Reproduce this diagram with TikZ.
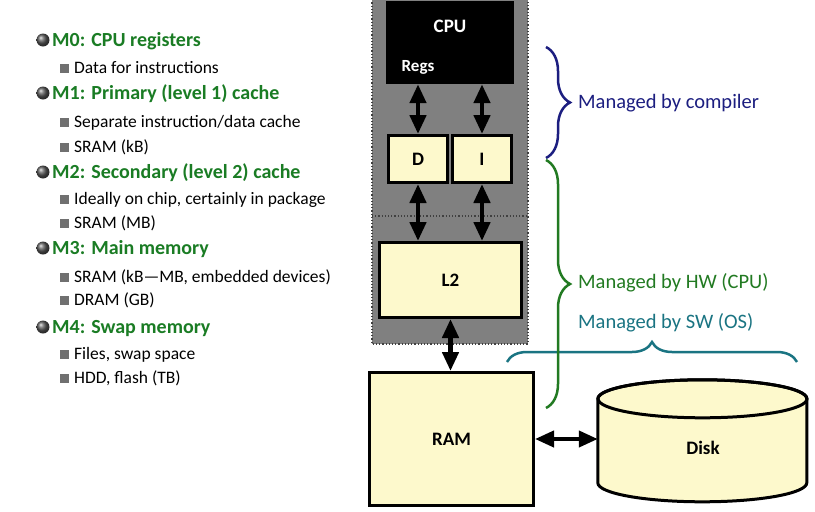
\documentclass[tikz,border=0pt]{standalone}
\usepackage{fontspec}
\setmainfont{Carlito}
\usetikzlibrary{arrows.meta,decorations.pathreplacing,positioning}
\definecolor{headgreen}{RGB}{26,124,36}
\definecolor{compnavy}{RGB}{28,30,128}
\definecolor{hwgreen}{RGB}{34,122,34}
\definecolor{swteal}{RGB}{26,116,130}
\definecolor{memfill}{RGB}{253,249,204}
\definecolor{chipgray}{RGB}{128,128,128}
\definecolor{sqgray}{RGB}{112,112,112}

\begin{document}
\begin{tikzpicture}[x=1pt,y=-1pt,
                hbullet/.style={circle,inner sep=0pt,minimum size=13pt,shading=ball,ball color=black!65},
                sbullet/.style={rectangle,inner sep=0pt,minimum size=9pt,fill=sqgray},
                head/.style={anchor=west,inner sep=0pt,text=headgreen,text height=16pt,text depth=3pt,font=\bfseries\fontsize{20}{24}\selectfont},
                item/.style={anchor=west,inner sep=0pt,text height=14pt,text depth=3pt,font=\fontsize{17.5}{20}\selectfont},
                memblock/.style={draw=black,line width=3pt,fill=memfill,font=\bfseries\fontsize{19}{22}\selectfont},
                cputext/.style={text=white,font=\bfseries\fontsize{19}{22}\selectfont},
                dbl/.style={line width=4.5pt,{Triangle[length=19pt,width=16pt]}-{Triangle[length=19pt,width=16pt]}},
                curly/.style={decorate,decoration={brace,amplitude=#1},line width=2.5pt},
                note/.style={anchor=west,inner sep=0pt,font=\fontsize{20.5}{24}\selectfont}]
                \useasboundingbox (0,0) rectangle (815,512);

                \node[hbullet] (bzero) at (43,40) {};
                \node[head] (mzero) at (52,40) {M0: CPU registers};
                \node[sbullet] (szeroa) at (64,68) {};
                \node[item] (zeroa) at (74,68) {Data for instructions};
                \node[hbullet] (bone) at (43,93) {};
                \node[head] (mone) at (52,93) {M1: Primary (level 1) cache};
                \node[sbullet] (sonea) at (64,122) {};
                \node[item] (onea) at (74,122) {Separate instruction/data cache};
                \node[sbullet] (soneb) at (64,147) {};
                \node[item] (oneb) at (74,147) {SRAM (kB)};
                \node[hbullet] (btwo) at (43,172) {};
                \node[head] (mtwo) at (52,172) {M2: Secondary (level 2) cache};
                \node[sbullet] (stwoa) at (64,199) {};
                \node[item] (twoa) at (74,199) {Ideally on chip, certainly in package};
                \node[sbullet] (stwob) at (64,223) {};
                \node[item] (twob) at (74,223) {SRAM (MB)};
                \node[hbullet] (bthree) at (43,248) {};
                \node[head] (mthree) at (52,248) {M3: Main memory};
                \node[sbullet] (sthreea) at (64,277) {};
                \node[item] (threea) at (74,277) {SRAM (kB—MB, embedded devices)};
                \node[sbullet] (sthreeb) at (64,300) {};
                \node[item] (threeb) at (74,300) {DRAM (GB)};
                \node[hbullet] (bfour) at (43,327) {};
                \node[head] (mfour) at (52,327) {M4: Swap memory};
                \node[sbullet] (sfoura) at (64,354) {};
                \node[item] (foura) at (74,354) {Files, swap space};
                \node[sbullet] (sfourb) at (64,378) {};
                \node[item] (fourb) at (74,378) {HDD, flash (TB)};

                \fill[chipgray] (372,-4) rectangle (528,344);
                \draw[black!75,line width=1.2pt,dotted] (372,-4) -- (372,344) -- (528,344) -- (528,-4);
                \draw[black!75,line width=1.2pt,dotted] (372,216) -- (528,216);

                \node[fill=black,minimum width=128pt,minimum height=83pt] (cpu) at (450,42.5) {};
                \node[cputext] (cpulabel) at (450,26) {CPU};
                \node[cputext,font=\bfseries\fontsize{17}{20}\selectfont] (regs) at (418,67) {Regs};
                \node[memblock,minimum width=59pt,minimum height=47pt] (dcache) at (418,159) {D};
                \node[memblock,minimum width=59pt,minimum height=47pt] (icache) at (482,159) {I};
                \node[memblock,minimum width=142pt,minimum height=75pt] (ltwo) at (450.5,280) {L2};
                \node[memblock,minimum width=164pt,minimum height=133pt] (ram) at (451.5,439) {RAM};

                \node[minimum width=209pt,minimum height=122pt] (disk) at (702.5,441) {};
                \draw[line width=3pt,fill=memfill] (disk.north west) ++(0,19) -- ++(0,84)
                    arc[start angle=180,end angle=360,x radius=104.5pt,y radius=19pt] -- ++(0,-84)
                    arc[start angle=0,end angle=180,x radius=104.5pt,y radius=19pt] -- cycle;
                \draw[line width=3pt] (disk.north) ++(0,19) ellipse[x radius=104.5pt,y radius=19pt];
                \node[font=\bfseries\fontsize{19}{22}\selectfont] (disklabel) at (703,448) {Disk};

                \draw[dbl] (dcache.north |- cpu.south) -- (dcache.north);
                \draw[dbl] (icache.north |- cpu.south) -- (icache.north);
                \draw[dbl] (dcache.south) -- (dcache.south |- ltwo.north);
                \draw[dbl] (icache.south) -- (icache.south |- ltwo.north);
                \draw[dbl] (ltwo.south) -- (ltwo.south |- ram.north);
                \draw[dbl,line width=4pt] (ram.east) -- (ram.east -| disk.west);

                \draw[curly=20pt,swteal] (507,362) -- (797,362);
                \draw[curly=24pt,compnavy] (546,47) -- (546,158);
                \draw[curly=24pt,hwgreen] (546,160) -- (546,408);
                \node[note,text=compnavy] (bycompiler) at (578,103) {Managed by compiler};
                \node[note,text=hwgreen] (byhw) at (578,283) {Managed by HW (CPU)};
                \node[note,text=swteal] (bysw) at (578,323) {Managed by SW (OS)};
            \end{tikzpicture}
\end{document}
